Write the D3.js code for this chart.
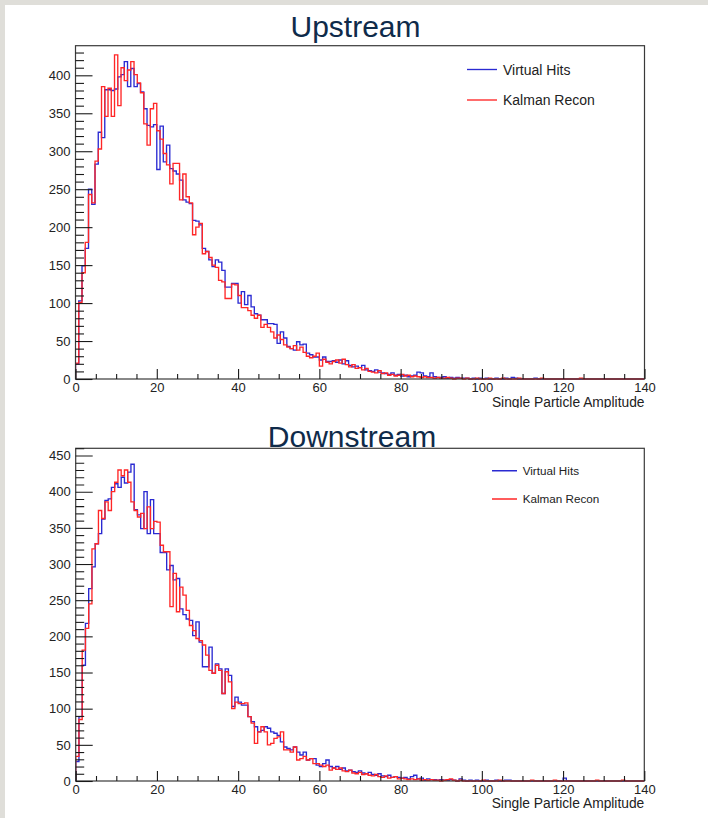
<!DOCTYPE html>
<html>
<head>
<meta charset="utf-8">
<script src="https://cdn.jsdelivr.net/npm/d3@7"></script>
<style>
  html, body { margin: 0; padding: 0; background: #ffffff; }
  svg { display: block; }
  text { font-family: "Liberation Sans", Arial, Helvetica, sans-serif; }
</style>
</head>
<body>
<svg id="chart" width="708" height="818"></svg>
<script>
// Histogram binning: 175 bins of width 0.8 over 0..140
const binWidth = 0.8;
const xMax = 140;
const xTicks = [0, 20, 40, 60, 80, 100, 120, 140];
const xMinorStep = 5;
const yMinorStep = 10;
const seriesNames = ["Virtual Hits", "Kalman Recon"];
const panelTitles = ["Upstream", "Downstream"];
const axisTitle = "Single Particle Amplitude";
const yMaxUp = 439;
const yMaxDown = 460;
const yTicksUp = [0, 50, 100, 150, 200, 250, 300, 350, 400];
const yTicksDown = [0, 50, 100, 150, 200, 250, 300, 350, 400, 450];

// Upstream counts per bin
const upVirtual = [
  20, 103, 149, 172, 250, 230, 283, 325, 318, 381,
  381, 380, 382, 398, 401, 418, 385, 409, 385, 389,
  378, 356, 334, 332, 335, 276, 333, 286, 308, 277,
  274, 270, 262, 236, 233, 231, 209, 208, 203, 172,
  168, 157, 148, 157, 154, 143, 121, 121, 126, 126,
  100, 115, 98, 110, 95, 86, 84, 78, 78, 73,
  73, 72, 47, 62, 54, 43, 40, 38, 49, 45,
  46, 34, 32, 29, 29, 25, 29, 23, 23, 24,
  22, 25, 20, 24, 18, 16, 17, 15, 18, 12,
  11, 10, 12, 9, 8, 7, 6, 8, 5, 6,
  4, 5, 3, 4, 5, 9, 8, 4, 3, 8,
  3, 2, 2, 3, 1, 2, 1, 2, 1, 1,
  1, 0, 1, 0, 1, 0, 1, 0, 0, 1,
  0, 0, 1, 0, 2, 1, 0, 0, 0, 0,
  0, 1, 0, 0, 0, 0, 0, 0, 0, 0,
  0, 0, 0, 0, 0, 0, 0, 0, 0, 0,
  0, 0, 0, 0, 0, 0, 0, 0, 0, 0,
  0, 0, 0, 0, 0
];
const upKalman = [
  21, 101, 140, 180, 243, 232, 287, 303, 385, 346,
  383, 346, 427, 360, 410, 393, 407, 418, 401, 390,
  377, 336, 308, 356, 363, 327, 316, 297, 282, 257,
  284, 284, 236, 270, 240, 232, 190, 200, 205, 165,
  168, 160, 150, 147, 130, 128, 106, 106, 125, 124,
  110, 94, 94, 90, 84, 80, 84, 68, 72, 68,
  62, 54, 58, 52, 45, 42, 40, 44, 38, 42,
  35, 30, 28, 30, 34, 17, 26, 22, 20, 23,
  25, 21, 26, 19, 16, 19, 14, 15, 12, 14,
  10, 9, 8, 11, 7, 8, 5, 6, 4, 5,
  6, 4, 5, 3, 4, 3, 2, 3, 2, 2,
  1, 2, 1, 1, 2, 1, 0, 1, 1, 0,
  1, 0, 0, 1, 0, 0, 0, 1, 0, 0,
  0, 1, 0, 0, 0, 0, 1, 0, 0, 0,
  0, 0, 0, 1, 0, 0, 0, 0, 0, 0,
  0, 0, 0, 0, 0, 1, 0, 0, 0, 0,
  0, 0, 0, 0, 0, 0, 0, 0, 0, 0,
  0, 0, 0, 0, 0
];

// Downstream counts per bin
const downVirtual = [
  27, 89, 160, 218, 266, 296, 328, 342, 362, 388,
  390, 406, 411, 406, 420, 412, 427, 438, 375, 368,
  349, 400, 342, 389, 342, 342, 316, 316, 292, 298,
  278, 280, 238, 230, 224, 222, 201, 220, 192, 158,
  158, 185, 149, 162, 155, 121, 155, 146, 103, 116,
  109, 105, 105, 89, 82, 75, 68, 70, 75, 73,
  68, 66, 63, 54, 47, 45, 43, 47, 40, 36,
  40, 29, 31, 31, 22, 20, 24, 29, 20, 18,
  20, 16, 18, 14, 15, 13, 12, 14, 11, 10,
  12, 9, 8, 10, 7, 6, 8, 5, 6, 5,
  4, 5, 3, 6, 8, 3, 4, 1, 3, 2,
  2, 1, 2, 1, 1, 2, 1, 0, 3, 1,
  0, 1, 0, 1, 0, 0, 1, 0, 0, 1,
  0, 0, 1, 1, 0, 0, 0, 0, 0, 0,
  0, 0, 0, 0, 0, 0, 0, 0, 0, 0,
  4, 0, 0, 0, 0, 0, 0, 0, 0, 0,
  0, 0, 0, 0, 0, 0, 0, 0, 0, 0,
  0, 0, 0, 0, 0
];
const downKalman = [
  34, 85, 181, 211, 245, 321, 328, 374, 363, 386,
  374, 400, 413, 430, 422, 430, 413, 386, 374, 365,
  370, 349, 379, 349, 359, 358, 326, 317, 317, 241,
  287, 234, 268, 257, 236, 215, 208, 197, 194, 188,
  174, 153, 149, 160, 153, 121, 151, 137, 100, 109,
  107, 107, 108, 89, 80, 52, 68, 75, 68, 50,
  52, 59, 61, 68, 43, 43, 40, 47, 29, 31,
  34, 29, 31, 24, 24, 22, 20, 22, 15, 18,
  16, 18, 14, 13, 15, 11, 10, 12, 9, 10,
  8, 7, 9, 6, 5, 7, 4, 5, 6, 3,
  4, 3, 2, 3, 2, 3, 1, 2, 1, 2,
  1, 1, 0, 1, 2, 3, 1, 0, 1, 0,
  0, 0, 0, 0, 0, 1, 0, 0, 0, 0,
  1, 0, 0, 0, 0, 0, 0, 0, 0, 0,
  1, 0, 0, 0, 0, 0, 0, 1, 0, 0,
  0, 0, 0, 0, 0, 0, 0, 0, 0, 0,
  1, 0, 0, 0, 0, 0, 0, 0, 1, 0,
  0, 0, 0, 0, 0
];

const colors = { virtual: "#2a2ad2", kalman: "#ff2626" };

const svg = d3.select("#chart");

// light grey slide edge along the top and left
svg.append("rect").attr("x", 0).attr("y", 0).attr("width", 708).attr("height", 818).attr("fill", "#ffffff");
svg.append("rect").attr("x", 0).attr("y", 0).attr("width", 708).attr("height", 5).attr("fill", "#dfded9");
svg.append("rect").attr("x", 0).attr("y", 0).attr("width", 5).attr("height", 818).attr("fill", "#dfded9");

const panels = [
  {
    id: "up", title: panelTitles[0], titleX: 355.5, titleY: 37,
    left: 75.5, top: 45.7, right: 644.5, bottom: 379,
    yMax: yMaxUp, yTicks: yTicksUp,
    series: [upVirtual, upKalman],
    legend: { x1: 467, x2: 497, y1: 69.5, y2: 100, tx: 503, size: 14 },
    axisTitleY: 406.5, clipBottom: 408
  },
  {
    id: "down", title: panelTitles[1], titleX: 352, titleY: 446.5,
    left: 75.7, top: 448.3, right: 644.3, bottom: 781,
    yMax: yMaxDown, yTicks: yTicksDown,
    series: [downVirtual, downKalman],
    legend: { x1: 492, x2: 517, y1: 470.7, y2: 499, tx: 522.7, size: 11.7 },
    axisTitleY: 808.3, clipBottom: 818
  }
];

panels.forEach(p => {
  const clipId = "panel-clip-" + p.id;
  svg.append("clipPath").attr("id", clipId)
    .append("rect").attr("x", 0).attr("y", p.top - 60)
    .attr("width", 708).attr("height", p.clipBottom - (p.top - 60));

  const g = svg.append("g").attr("clip-path", `url(#${clipId})`);

  const x = d3.scaleLinear().domain([0, xMax]).range([p.left, p.right]);
  const y = d3.scaleLinear().domain([0, p.yMax]).range([p.bottom, p.top]);

  // plot clip for the histogram lines
  const plotClip = "plot-clip-" + p.id;
  svg.append("clipPath").attr("id", plotClip)
    .append("rect").attr("x", p.left).attr("y", p.top)
    .attr("width", p.right - p.left).attr("height", p.bottom - p.top + 1);

  // step outlines for each histogram
  const step = d3.line().x(d => x(d[0])).y(d => y(d[1])).curve(d3.curveStepAfter);
  const seriesColors = [colors.virtual, colors.kalman];
  p.series.forEach((vals, si) => {
    const pts = [[0, 0]];
    vals.forEach((v, k) => pts.push([k * binWidth, v]));
    pts.push([xMax, vals[vals.length - 1]]);
    g.append("path")
      .attr("clip-path", `url(#${plotClip})`)
      .attr("d", step(pts))
      .attr("fill", "none")
      .attr("stroke", seriesColors[si])
      .attr("stroke-width", 1.35)
      .attr("stroke-linejoin", "miter");
  });

  // frame
  g.append("rect")
    .attr("x", p.left).attr("y", p.top)
    .attr("width", p.right - p.left).attr("height", p.bottom - p.top)
    .attr("fill", "none").attr("stroke", "#3a3a3a").attr("stroke-width", 1.2);

  // y axis: major ticks pointing into the frame, minor ticks between
  const yMinor = d3.range(0, p.yMax + 0.001, yMinorStep).filter(v => v % 50 !== 0);
  const yAxis = d3.axisLeft(y).tickValues(p.yTicks).tickFormat(d3.format("d"))
    .tickSizeInner(-17).tickSizeOuter(0).tickPadding(5);
  const ya = g.append("g").attr("transform", `translate(${p.left},0)`).call(yAxis);
  ya.select(".domain").remove();
  ya.selectAll(".tick line").attr("stroke", "#1a1a1a").attr("stroke-width", 1.1);
  ya.selectAll(".tick text").attr("font-size", 13).attr("fill", "#222");
  const yMinorAxis = d3.axisLeft(y).tickValues(yMinor).tickFormat("").tickSizeInner(-8.5).tickSizeOuter(0);
  const ym = g.append("g").attr("transform", `translate(${p.left},0)`).call(yMinorAxis);
  ym.select(".domain").remove();
  ym.selectAll(".tick line").attr("stroke", "#1a1a1a").attr("stroke-width", 1.1);

  // x axis: ticks pointing up into the frame
  const xMinor = d3.range(0, xMax + 0.001, xMinorStep).filter(v => v % 20 !== 0);
  const xAxis = d3.axisBottom(x).tickValues(xTicks).tickFormat(d3.format("d"))
    .tickSizeInner(-10).tickSizeOuter(0).tickPadding(4);
  const xa = g.append("g").attr("transform", `translate(0,${p.bottom})`).call(xAxis);
  xa.select(".domain").remove();
  xa.selectAll(".tick line").attr("stroke", "#1a1a1a").attr("stroke-width", 1.1);
  xa.selectAll(".tick text").attr("font-size", 13).attr("fill", "#222");
  const xMinorAxis = d3.axisBottom(x).tickValues(xMinor).tickFormat("").tickSizeInner(-5).tickSizeOuter(0);
  const xm = g.append("g").attr("transform", `translate(0,${p.bottom})`).call(xMinorAxis);
  xm.select(".domain").remove();
  xm.selectAll(".tick line").attr("stroke", "#1a1a1a").attr("stroke-width", 1.1);

  // axis title, right aligned to the frame
  g.append("text")
    .attr("x", p.right).attr("y", p.axisTitleY)
    .attr("text-anchor", "end").attr("font-size", 13.8).attr("fill", "#222")
    .text(axisTitle);

  // legend
  const L = p.legend;
  [[L.y1, colors.virtual, seriesNames[0]], [L.y2, colors.kalman, seriesNames[1]]].forEach(([ly, c, name]) => {
    g.append("line").attr("x1", L.x1).attr("x2", L.x2).attr("y1", ly).attr("y2", ly)
      .attr("stroke", c).attr("stroke-width", 1.35);
    g.append("text").attr("x", L.tx).attr("y", ly).attr("dy", "0.36em")
      .attr("font-size", L.size).attr("fill", "#222").text(name);
  });

  // panel title
  svg.append("text")
    .attr("x", p.titleX).attr("y", p.titleY)
    .attr("text-anchor", "middle").attr("font-size", 30).attr("fill", "#0f2b4a")
    .text(p.title);
});
</script>
</body>
</html>
